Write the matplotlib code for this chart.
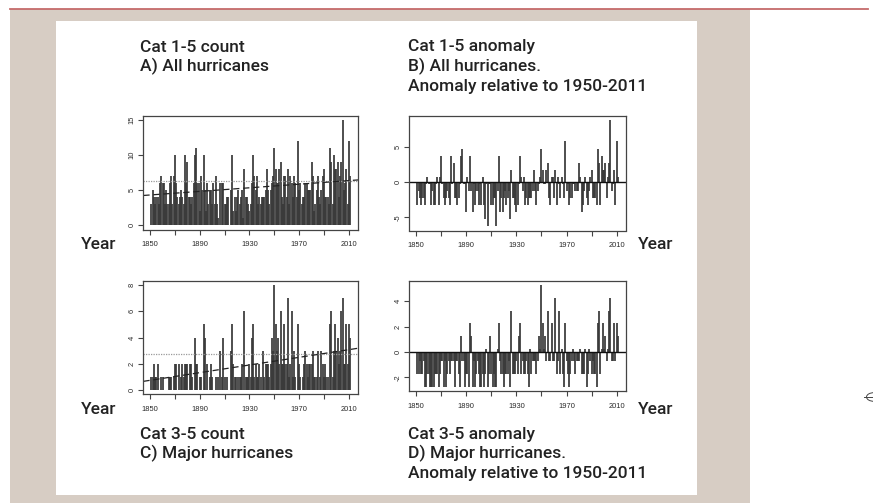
import numpy as np
import matplotlib
matplotlib.use("Agg")
import matplotlib.pyplot as plt
from matplotlib.patches import Rectangle, Circle
from matplotlib.lines import Line2D

# ---------------- data ----------------
years = list(range(1851, 2012))

# Cat 1-5 hurricane counts per year (1851-2011)
cat15_counts = [
    3, 5, 4, 3, 4, 4, 3, 6, 7, 6,      # 1851-1860
    6, 3, 5, 3, 3, 6, 7, 3, 7, 10,     # 1861-1870
    6, 4, 3, 4, 5, 4, 3, 10, 6, 9,     # 1871-1880
    4, 4, 3, 4, 6, 10, 11, 6, 6, 2,    # 1881-1890
    7, 5, 10, 5, 2, 6, 3, 5, 5, 3,     # 1891-1900
    6, 3, 7, 3, 1, 6, 0, 6, 6, 3,      # 1901-1910
    3, 4, 4, 0, 5, 10, 2, 4, 2, 4,     # 1911-1920
    5, 3, 4, 5, 1, 8, 4, 4, 3, 2,      # 1921-1930
    3, 6, 10, 7, 5, 7, 3, 4, 3, 4,     # 1931-1940
    4, 4, 5, 8, 5, 3, 5, 6, 7, 11,     # 1941-1950
    8, 6, 6, 8, 9, 4, 3, 7, 7, 4,      # 1951-1960
    8, 3, 7, 6, 4, 7, 6, 4, 12, 5,     # 1961-1970
    6, 3, 4, 4, 6, 6, 5, 5, 5, 9,      # 1971-1980
    7, 2, 3, 5, 7, 4, 3, 5, 7, 8,      # 1981-1990
    4, 4, 4, 3, 11, 9, 3, 10, 8, 8,    # 1991-2000
    9, 4, 7, 9, 15, 5, 6, 8, 3, 12,    # 2001-2010
    7,                                 # 2011
]

# Cat 3-5 (major) hurricane counts per year (1851-2011)
cat35_counts = [
    1, 1, 2, 1, 1, 2, 0, 0, 1, 1,      # 1851-1860
    0, 0, 0, 0, 1, 1, 1, 0, 1, 2,      # 1861-1870
    2, 0, 2, 0, 1, 2, 1, 2, 2, 2,      # 1871-1880
    0, 2, 2, 1, 0, 4, 2, 2, 0, 1,      # 1881-1890
    1, 0, 5, 4, 0, 2, 0, 1, 2, 1,      # 1891-1900
    0, 0, 1, 0, 1, 3, 0, 1, 4, 1,      # 1901-1910
    0, 1, 0, 0, 3, 5, 2, 1, 1, 0,      # 1911-1920
    1, 1, 1, 2, 0, 6, 1, 1, 1, 2,      # 1921-1930
    1, 4, 5, 1, 2, 1, 1, 2, 1, 0,      # 1931-1940
    3, 1, 2, 2, 2, 1, 2, 4, 3, 8,      # 1941-1950
    5, 3, 4, 2, 6, 2, 2, 5, 2, 2,      # 1951-1960
    7, 1, 2, 6, 1, 3, 1, 0, 5, 2,      # 1961-1970
    1, 0, 1, 2, 3, 2, 1, 2, 2, 2,      # 1971-1980
    3, 1, 1, 1, 3, 0, 1, 3, 2, 1,      # 1981-1990
    2, 1, 1, 0, 5, 6, 1, 3, 5, 3,      # 1991-2000
    4, 2, 3, 6, 7, 2, 2, 5, 2, 5,      # 2001-2010
    4,                                 # 2011
]

base_start, base_end = 1950, 2011
xtick_values = list(range(1850, 2011, 20))
xtick_labels = ["1850", "", "1890", "", "1930", "", "1970", "", "2010"]

titles = {
    "A": ["Cat 1-5 count", "A) All hurricanes"],
    "B": ["Cat 1-5 anomaly", "B) All hurricanes.", "Anomaly relative to 1950-2011"],
    "C": ["Cat 3-5 count", "C) Major hurricanes"],
    "D": ["Cat 3-5 anomaly", "D) Major hurricanes.", "Anomaly relative to 1950-2011"],
}
ytick_sets = {
    "A": [0, 5, 10, 15],
    "B": [-5, 0, 5],
    "C": [0, 2, 4, 6, 8],
    "D": [-2, 0, 2, 4],
}

# ---------------- figure ----------------
W, H = 873, 503
fig = plt.figure(figsize=(W / 100, H / 100), dpi=100)
fig.patch.set_facecolor("white")

def fx(x):
    return x / W

def fy(y):
    return 1 - y / H

def add_axes_px(x0, y0, x1, y1):
    ax = fig.add_axes([x0 / W, 1 - y1 / H, (x1 - x0) / W, (y1 - y0) / H])
    ax.set_zorder(2)
    return ax

# background panels
fig.patches.append(Rectangle((fx(10), fy(503)), fx(750 - 10), (503 - 9) / H,
                             transform=fig.transFigure, facecolor="#d7cdc4",
                             edgecolor="none", zorder=-2))
fig.patches.append(Rectangle((fx(56), fy(495)), fx(697 - 56), (495 - 21) / H,
                             transform=fig.transFigure, facecolor="white",
                             edgecolor="none", zorder=-1))
fig.lines.append(Line2D([fx(10), fx(868)], [fy(9.2), fy(9.2)],
                        transform=fig.transFigure, color="#c56b6b", lw=1.3))
# small crop mark on the right
fig.patches.append(Circle((fx(874), fy(397)), 7.5 / W, transform=fig.transFigure,
                          facecolor="none", edgecolor="#444", lw=0.7))
fig.lines.append(Line2D([fx(864), fx(873)], [fy(397), fy(397)],
                        transform=fig.transFigure, color="#444", lw=0.7))

yrs = np.array(years)
c15 = np.array(cat15_counts, dtype=float)
c35 = np.array(cat35_counts, dtype=float)
mask = (yrs >= base_start) & (yrs <= base_end)
m15 = c15[mask].mean()
m35 = c35[mask].mean()

xlo = 1851 - 0.04 * 160
xhi = 2011 + 0.04 * 160

BAR_C = "#383838"
BAR_LW = 1.25
FRAME_C = "#444444"
TICK_FONT = dict(family="Liberation Sans", size=5.4, color="#2a2a2a")

def style_axes(ax, key, ylim):
    ax.set_xlim(xlo, xhi)
    ax.set_ylim(*ylim)
    for s in ax.spines.values():
        s.set_color(FRAME_C)
        s.set_linewidth(0.9)
    ax.set_xticks(xtick_values)
    ax.set_xticklabels(xtick_labels, fontdict=TICK_FONT)
    ax.set_yticks(ytick_sets[key])
    ax.set_yticklabels([str(v) for v in ytick_sets[key]], fontdict=TICK_FONT,
                       rotation=90, va="center")
    ax.tick_params(axis="x", length=3.6, width=0.8, color=FRAME_C, pad=5.0)
    ax.tick_params(axis="y", length=3.6, width=0.8, color=FRAME_C, pad=2.0)
    ax.set_facecolor("white")

def rlim(vals):
    lo, hi = min(vals.min(), 0), vals.max()
    r = hi - lo
    return (lo - 0.04 * r, hi + 0.04 * r)

xx = np.array([xlo, xhi])

# Panel A
axA = add_axes_px(143.4, 116, 358, 229.5)
axA.vlines(yrs, 0, c15, color=BAR_C, lw=BAR_LW)
axA.axhline(m15, color="#9a9a9a", lw=0.9, ls=(0, (1, 1)))
pA = np.polyfit(yrs, c15, 1)
axA.plot(xx, np.polyval(pA, xx), color="#222222", lw=0.9, ls=(0, (5, 3)))
style_axes(axA, "A", rlim(c15))

# Panel B
a15 = c15 - m15
axB = add_axes_px(409.3, 116, 626, 230.5)
axB.vlines(yrs, 0, a15, color=BAR_C, lw=BAR_LW)
axB.axhline(0, color="#111111", lw=1.0)
style_axes(axB, "B", rlim(a15))

# Panel C
axC = add_axes_px(143.4, 281, 358, 394)
axC.vlines(yrs, 0, c35, color=BAR_C, lw=BAR_LW)
axC.axhline(m35, color="#9a9a9a", lw=0.9, ls=(0, (1, 1)))
pC = np.polyfit(yrs, c35, 1)
axC.plot(xx, np.polyval(pC, xx), color="#222222", lw=0.9, ls=(0, (5, 3)))
style_axes(axC, "C", rlim(c35))

# Panel D
a35 = c35 - m35
axD = add_axes_px(409.3, 281, 626, 391)
axD.vlines(yrs, 0, a35, color=BAR_C, lw=BAR_LW)
axD.axhline(0, color="#111111", lw=1.0)
style_axes(axD, "D", rlim(a35))

# Titles
TFONT = dict(family="Roboto", size=12.5, weight="medium", color="#222222")
def title_block(x, y_first, lines, pitch=19.6):
    for i, t in enumerate(lines):
        fig.text(fx(x), fy(y_first + i * pitch), t, ha="left", va="baseline", **TFONT)

title_block(140, 51.5, titles["A"])
title_block(408, 51.5, titles["B"])
title_block(140, 439, titles["C"])
title_block(408, 439, titles["D"])

# "Year" labels
for (x, y) in [(81, 248.5), (638, 248.5), (81, 413.5), (638, 413.5)]:
    fig.text(fx(x), fy(y), "Year", ha="left", va="baseline", **TFONT)

fig.savefig("out.png", dpi=100, facecolor=fig.get_facecolor())
